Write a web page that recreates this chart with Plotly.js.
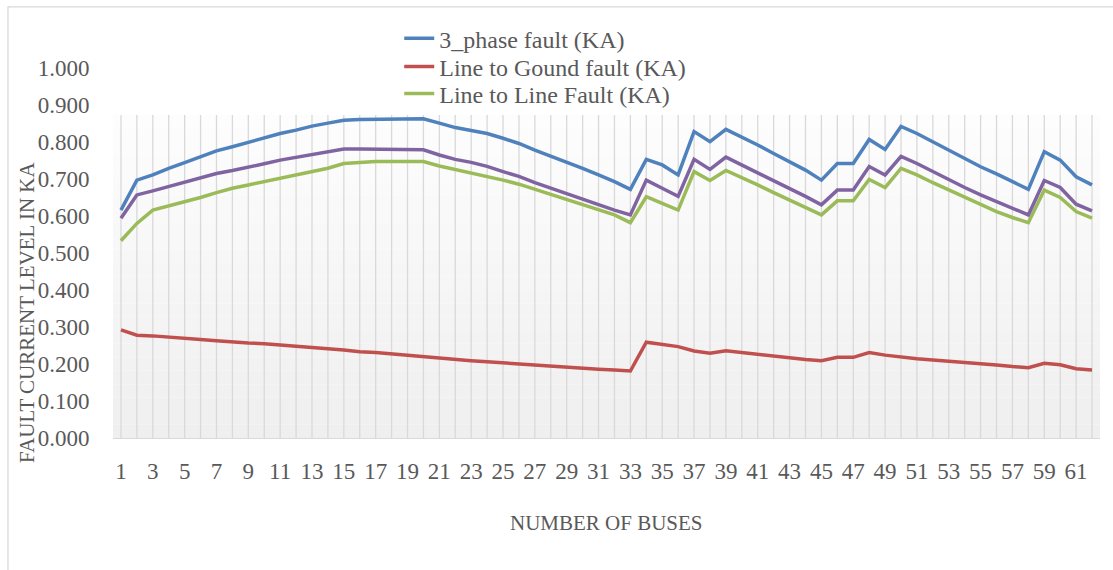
<!DOCTYPE html>
<html>
<head>
<meta charset="utf-8">
<script src="https://cdn.plot.ly/plotly-3.0.1.min.js"></script>
<style>html,body{margin:0;padding:0;background:#fff;}#chart{width:1113px;height:570px;}</style>
</head>
<body>
<div id="chart"></div>
<script>
const buses = [1,2,3,4,5,6,7,8,9,10,11,12,13,14,15,16,17,18,19,20,21,22,23,24,25,26,27,28,29,30,31,32,33,34,35,36,37,38,39,40,41,42,43,44,45,46,47,48,49,50,51,52,53,54,55,56,57,58,59,60,61,62];
const tickBuses = [1,3,5,7,9,11,13,15,17,19,21,23,25,27,29,31,33,35,37,39,41,43,45,47,49,51,53,55,57,59,61];
const yTicks = [0,0.1,0.2,0.3,0.4,0.5,0.6,0.7,0.8,0.9,1.0];

const threePhase = [0.616,0.697,0.711,0.729,0.744,0.760,0.776,0.787,0.799,0.812,
  0.823,0.832,0.843,0.851,0.859,0.861,0.861,0.862,0.862,0.863,
  0.851,0.839,0.831,0.823,0.810,0.796,0.778,0.762,0.744,0.729,
  0.711,0.693,0.672,0.753,0.738,0.711,0.828,0.801,0.834,0.814,
  0.792,0.769,0.747,0.724,0.697,0.742,0.742,0.807,0.780,0.842,
  0.823,0.801,0.777,0.756,0.733,0.714,0.693,0.672,0.774,0.751,0.706,0.684];
const lineToGround = [0.292,0.278,0.276,0.272,0.268,0.266,0.263,0.259,0.257,0.255,
  0.251,0.249,0.245,0.241,0.238,0.233,0.231,0.227,0.224,0.220,
  0.215,0.213,0.209,0.206,0.203,0.199,0.196,0.193,0.190,0.187,
  0.186,0.184,0.181,0.259,0.254,0.247,0.235,0.229,0.236,0.231,
  0.226,0.222,0.217,0.212,0.209,0.218,0.218,0.231,0.224,0.218,
  0.214,0.211,0.208,0.204,0.200,0.197,0.193,0.190,0.202,0.198,0.187,0.184];
const lineToLine = [0.533,0.580,0.616,0.627,0.639,0.650,0.663,0.675,0.684,0.693,
  0.702,0.711,0.722,0.729,0.742,0.745,0.747,0.747,0.747,0.747,
  0.735,0.726,0.717,0.707,0.697,0.686,0.672,0.659,0.646,0.632,
  0.618,0.603,0.582,0.652,0.634,0.616,0.720,0.696,0.723,0.704,
  0.684,0.663,0.643,0.623,0.603,0.641,0.641,0.699,0.677,0.729,
  0.711,0.690,0.670,0.650,0.630,0.612,0.596,0.582,0.670,0.650,0.612,0.594];
const series4 = [0.594,0.657,0.668,0.680,0.693,0.704,0.715,0.723,0.731,0.741,
  0.751,0.759,0.767,0.774,0.781,0.781,0.780,0.780,0.780,0.779,
  0.765,0.753,0.745,0.734,0.720,0.707,0.690,0.675,0.659,0.645,
  0.630,0.616,0.603,0.697,0.675,0.653,0.753,0.726,0.759,0.738,
  0.717,0.696,0.675,0.653,0.630,0.670,0.670,0.734,0.711,0.761,
  0.742,0.720,0.697,0.677,0.657,0.639,0.621,0.603,0.696,0.677,0.632,0.614];

const FONT = "'Liberation Serif', 'Times New Roman', serif";
const TXT = '#595959';
const bgTop = 0.873;

function mk(name, y, color, show, leg) {
  const t = {x: buses, y: y, name: name, type: 'scatter', mode: 'lines',
    line: {color: color, width: 3.5}, showlegend: show, hoverinfo: 'x+y+name'};
  if (leg) t.legend = leg;
  return t;
}
const traces = [
  mk('3_phase fault (KA)', threePhase, '#4F81BD', true, 'legend'),
  mk('Line to Gound fault (KA)', lineToGround, '#C0504D', true, 'legend2'),
  mk('Line to Line Fault (KA)', lineToLine, '#9BBB59', true, 'legend3'),
  mk('Series4', series4, '#8064A2', false, null)
];

const shapes = [];
const nb = 24;
for (let k = 0; k < nb; k++) {
  const t = k / (nb - 1);
  const c = Math.round(239 + (253 - 239) * t);
  shapes.push({type: 'rect', layer: 'below', xref: 'paper', yref: 'y',
    x0: 0, x1: 1, y0: bgTop * k / nb, y1: bgTop * (k + 1) / nb,
    fillcolor: 'rgb(' + c + ',' + c + ',' + c + ')', line: {width: 0}});
}
buses.forEach(b => shapes.push({type: 'line', layer: 'below', xref: 'x', yref: 'y',
  x0: b, x1: b, y0: 0, y1: bgTop, line: {color: '#d9d9d9', width: 1.3}}));
for (let k = 0; k <= buses.length; k++) {
  shapes.push({type: 'line', xref: 'x', yref: 'y', ysizemode: 'pixel', yanchor: 0,
    x0: k + 0.5, x1: k + 0.5, y0: 0, y1: -5, line: {color: '#d9d9d9', width: 1.3}});
}
shapes.push({type: 'rect', xref: 'paper', yref: 'paper', layer: 'below',
  x0: -0.1064, x1: 1.03, y0: -0.4, y1: 1.165, line: {color: '#d9d9d9', width: 1.3}, fillcolor: 'rgba(0,0,0,0)'});

function leg(y) {
  return {x: 0.29, xanchor: 'left', y: y, yanchor: 'middle', bgcolor: 'rgba(0,0,0,0)',
    font: {family: FONT, size: 24, color: TXT}, itemwidth: 30};
}

const layout = {
  width: 1113, height: 570,
  margin: {l: 113, r: 13, t: 68, b: 132},
  paper_bgcolor: '#ffffff', plot_bgcolor: 'rgba(0,0,0,0)',
  font: {family: FONT, color: TXT, size: 22},
  showlegend: true,
  legend: leg(1.079),
  legend2: leg(1.003),
  legend3: leg(0.930),
  xaxis: {range: [0.5, 62.5], showgrid: false, zeroline: false, showline: true,
    linecolor: '#d9d9d9', linewidth: 1.3, tickmode: 'array', tickvals: tickBuses,
    ticktext: tickBuses.map(String), ticks: 'outside', ticklen: 12, tickcolor: 'rgba(0,0,0,0)',
    tickfont: {family: FONT, size: 23, color: TXT}, fixedrange: true},
  yaxis: {range: [0, 1.0], showgrid: false, zeroline: false, showline: false,
    tickmode: 'array', tickvals: yTicks, ticktext: yTicks.map(v => v.toFixed(3)),
    ticks: 'outside', ticklen: 18, tickcolor: 'rgba(0,0,0,0)',
    tickfont: {family: FONT, size: 23, color: TXT}, fixedrange: true},
  shapes: shapes,
  annotations: [
    {text: 'FAULT CURRENT LEVEL IN KA', xref: 'paper', yref: 'paper', x: -0.0871, y: 0.338,
      textangle: -90, showarrow: false, font: {family: FONT, size: 21, color: TXT},
      xanchor: 'center', yanchor: 'middle'},
    {text: 'NUMBER OF BUSES', xref: 'paper', yref: 'paper', x: 0.5, y: -0.2297,
      showarrow: false, font: {family: FONT, size: 21, color: TXT},
      xanchor: 'center', yanchor: 'middle'}
  ]
};
Plotly.newPlot('chart', traces, layout, {displayModeBar: false, staticPlot: true});
</script>
</body>
</html>
